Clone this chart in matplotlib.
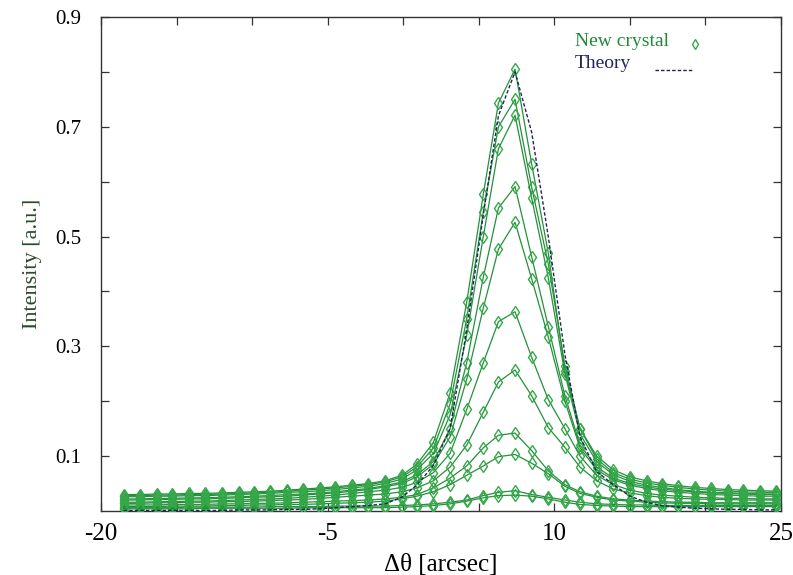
import matplotlib
matplotlib.use("Agg")
import matplotlib.pyplot as plt
from matplotlib.ticker import FixedLocator, NullFormatter
from matplotlib.lines import Line2D

# Rocking-curve scan positions [arcsec]
theta = [-18.5, -17.4, -16.3, -15.3, -14.2, -13.1, -12.0, -10.9, -9.9, -8.8,
         -7.7, -6.6, -5.5, -4.5, -3.4, -2.3, -1.2, -0.1, 0.9, 2.0,
         3.1, 4.2, 5.3, 6.3, 7.4, 8.5, 9.6, 10.7, 11.7, 12.8,
         13.9, 15.0, 16.1, 17.1, 18.2, 19.3, 20.4, 21.5, 22.5, 23.6, 24.7]

# Measured intensities of the new crystal, one scan per list
scan_a = [0.030, 0.030, 0.031, 0.031, 0.032, 0.032, 0.033, 0.034, 0.035, 0.036,
          0.038, 0.040, 0.042, 0.044, 0.047, 0.050, 0.055, 0.065, 0.085, 0.125,
          0.215, 0.380, 0.577, 0.743, 0.805, 0.632, 0.470, 0.255, 0.150, 0.100,
          0.075, 0.062, 0.055, 0.050, 0.046, 0.043, 0.041, 0.039, 0.038, 0.037, 0.036]
scan_b = [0.028, 0.028, 0.029, 0.029, 0.030, 0.030, 0.031, 0.032, 0.033, 0.034,
          0.036, 0.038, 0.040, 0.042, 0.045, 0.048, 0.053, 0.062, 0.080, 0.115,
          0.195, 0.350, 0.545, 0.700, 0.750, 0.590, 0.450, 0.265, 0.150, 0.095,
          0.070, 0.058, 0.051, 0.047, 0.043, 0.040, 0.038, 0.036, 0.035, 0.034, 0.034]
scan_c = [0.026, 0.026, 0.027, 0.027, 0.028, 0.028, 0.029, 0.030, 0.031, 0.032,
          0.034, 0.035, 0.037, 0.039, 0.042, 0.045, 0.050, 0.058, 0.075, 0.105,
          0.175, 0.320, 0.500, 0.660, 0.721, 0.570, 0.425, 0.250, 0.140, 0.090,
          0.066, 0.054, 0.047, 0.043, 0.039, 0.036, 0.034, 0.033, 0.032, 0.031, 0.031]
scan_d = [0.022, 0.022, 0.023, 0.023, 0.024, 0.024, 0.025, 0.026, 0.027, 0.028,
          0.030, 0.031, 0.033, 0.035, 0.038, 0.041, 0.046, 0.053, 0.066, 0.090,
          0.150, 0.270, 0.426, 0.552, 0.591, 0.463, 0.336, 0.210, 0.120, 0.080,
          0.060, 0.050, 0.044, 0.040, 0.037, 0.035, 0.033, 0.032, 0.031, 0.030, 0.030]
scan_e = [0.020, 0.020, 0.021, 0.021, 0.022, 0.022, 0.023, 0.024, 0.025, 0.026,
          0.027, 0.029, 0.031, 0.033, 0.036, 0.039, 0.044, 0.050, 0.062, 0.085,
          0.135, 0.240, 0.370, 0.477, 0.526, 0.423, 0.317, 0.200, 0.115, 0.075,
          0.057, 0.047, 0.041, 0.037, 0.034, 0.032, 0.030, 0.029, 0.028, 0.027, 0.027]
scan_f = [0.016, 0.016, 0.017, 0.017, 0.018, 0.018, 0.019, 0.020, 0.021, 0.022,
          0.023, 0.025, 0.027, 0.029, 0.032, 0.035, 0.038, 0.043, 0.052, 0.070,
          0.105, 0.185, 0.270, 0.345, 0.363, 0.280, 0.203, 0.150, 0.100, 0.065,
          0.048, 0.038, 0.032, 0.029, 0.027, 0.025, 0.024, 0.023, 0.023, 0.022, 0.022]
scan_g = [0.014, 0.014, 0.015, 0.015, 0.016, 0.016, 0.017, 0.017, 0.018, 0.019,
          0.020, 0.021, 0.023, 0.025, 0.027, 0.029, 0.031, 0.035, 0.042, 0.055,
          0.080, 0.120, 0.180, 0.235, 0.257, 0.210, 0.152, 0.116, 0.080, 0.055,
          0.040, 0.033, 0.028, 0.025, 0.023, 0.022, 0.021, 0.021, 0.020, 0.020, 0.020]
scan_h = [0.011, 0.011, 0.011, 0.012, 0.012, 0.012, 0.013, 0.013, 0.014, 0.014,
          0.015, 0.016, 0.017, 0.018, 0.019, 0.020, 0.022, 0.025, 0.030, 0.042,
          0.060, 0.082, 0.115, 0.138, 0.142, 0.110, 0.073, 0.048, 0.035, 0.027,
          0.022, 0.020, 0.018, 0.017, 0.016, 0.016, 0.015, 0.015, 0.015, 0.015, 0.015]
scan_i = [0.008, 0.008, 0.008, 0.009, 0.009, 0.009, 0.010, 0.010, 0.011, 0.011,
          0.012, 0.012, 0.013, 0.014, 0.015, 0.016, 0.018, 0.022, 0.027, 0.035,
          0.048, 0.065, 0.082, 0.099, 0.103, 0.087, 0.068, 0.045, 0.032, 0.025,
          0.020, 0.018, 0.016, 0.015, 0.014, 0.014, 0.013, 0.013, 0.013, 0.013, 0.013]
scan_j = [0.006, 0.006, 0.006, 0.006, 0.007, 0.007, 0.007, 0.007, 0.007, 0.008,
          0.008, 0.008, 0.008, 0.009, 0.009, 0.009, 0.009, 0.010, 0.011, 0.013,
          0.016, 0.020, 0.028, 0.034, 0.037, 0.030, 0.025, 0.020, 0.016, 0.013,
          0.012, 0.011, 0.011, 0.010, 0.010, 0.010, 0.010, 0.010, 0.010, 0.010, 0.010]
scan_k = [0.004, 0.004, 0.004, 0.004, 0.004, 0.005, 0.005, 0.005, 0.005, 0.005,
          0.005, 0.006, 0.006, 0.006, 0.006, 0.006, 0.006, 0.007, 0.008, 0.010,
          0.013, 0.018, 0.024, 0.028, 0.029, 0.027, 0.022, 0.016, 0.012, 0.010,
          0.009, 0.008, 0.008, 0.008, 0.008, 0.008, 0.008, 0.008, 0.008, 0.008, 0.008]

scans = [scan_a, scan_b, scan_c, scan_d, scan_e, scan_f,
         scan_g, scan_h, scan_i, scan_j, scan_k]

# Calculated rocking curve
theory = [0.001, 0.001, 0.001, 0.001, 0.001, 0.001, 0.001, 0.002, 0.002, 0.002,
          0.003, 0.003, 0.004, 0.006, 0.008, 0.010, 0.013, 0.025, 0.047, 0.083,
          0.150, 0.330, 0.540, 0.720, 0.800, 0.690, 0.500, 0.285, 0.135, 0.072,
          0.048, 0.027, 0.016, 0.010, 0.007, 0.005, 0.004, 0.003, 0.003, 0.002, 0.002]

x_ticks = [-20, -5, 10, 25]
x_minor = [-15, -10, 0, 5, 15, 20]
y_ticks = [0.1, 0.3, 0.5, 0.7, 0.9]
y_minor = [0.2, 0.4, 0.6, 0.8]

GREEN_LINE = "#23913a"
GREEN_MARK = "#35a84a"
NAVY = "#23235e"

plt.rcParams["font.family"] = ["Liberation Serif", "DejaVu Serif"]

fig = plt.figure(figsize=(7.93, 5.75), dpi=100)
ax = fig.add_axes([101 / 793, 64 / 575, 680 / 793, 494 / 575])

for s in scans:
    ax.plot(theta, s, color=GREEN_LINE, lw=0.9, marker="d", ms=6,
            mfc="none", mec=GREEN_MARK, mew=1.0, zorder=3)

ax.plot(theta, theory, color=NAVY, lw=1.0, ls=(0, (2.5, 1.5)), zorder=4)

ax.set_xlim(-20, 25)
ax.set_ylim(0, 0.9)

ax.xaxis.set_major_locator(FixedLocator(x_ticks))
ax.xaxis.set_minor_locator(FixedLocator(x_minor))
ax.yaxis.set_major_locator(FixedLocator(y_ticks))
ax.yaxis.set_minor_locator(FixedLocator(y_minor))
ax.xaxis.set_minor_formatter(NullFormatter())
ax.yaxis.set_minor_formatter(NullFormatter())
ax.set_yticklabels([f"{v:.1f}" for v in y_ticks])
ax.set_xticklabels([str(v) for v in x_ticks])

ax.tick_params(which="both", direction="in", length=6, width=0.9,
               top=True, right=True, color="#333333")
ax.tick_params(axis="x", labelsize=18, pad=9)
ax.tick_params(axis="y", labelsize=15, pad=14)

for sp in ax.spines.values():
    sp.set_linewidth(1.0)
    sp.set_color("#333333")

ax.set_xlabel("Δθ [arcsec]", fontsize=18, labelpad=6)
ax.set_ylabel("Intensity [a.u.]", fontsize=16, color="#2b4a2b", labelpad=10)

# Key in the upper right corner
ax.text(575 / 793, 1 - 41 / 575, "New crystal", transform=fig.transFigure,
        fontsize=14, color="#1f8a3a", va="center", ha="left")
ax.text(575 / 793, 1 - 64 / 575, "Theory", transform=fig.transFigure,
        fontsize=14, color=NAVY, va="center", ha="left")
fig.add_artist(Line2D([695 / 793], [1 - 44 / 575], transform=fig.transFigure,
                      marker="d", ms=5, mfc="none", mec=GREEN_MARK, mew=1.0,
                      ls="none"))
fig.add_artist(Line2D([655 / 793, 692 / 793], [1 - 70 / 575, 1 - 70 / 575],
                      transform=fig.transFigure, color=NAVY, lw=1.0,
                      ls=(0, (2.5, 1.5))))

fig.savefig("out.png", dpi=100, facecolor="white")
